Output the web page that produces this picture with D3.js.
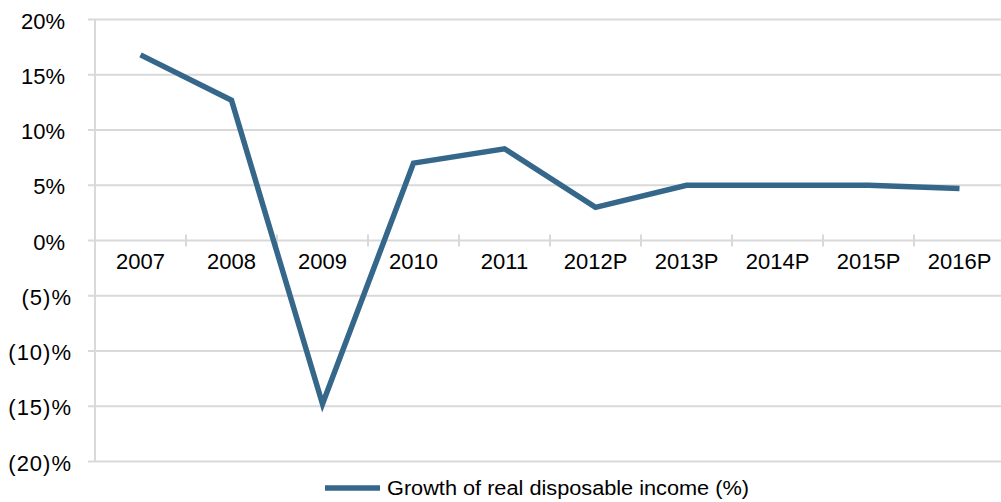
<!DOCTYPE html>
<html><head><meta charset="utf-8">
<script src="https://cdn.jsdelivr.net/npm/d3@7"></script>
<style>body{margin:0;background:#fff;} svg{display:block;font-family:"Liberation Sans",Arial,sans-serif;}</style>
</head><body><div id="c"></div>
<script>
const categories = ["2007","2008","2009","2010","2011","2012P","2013P","2014P","2015P","2016P"];
const growth = [16.8, 12.7, -14.8, 7.0, 8.3, 3.0, 5.0, 5.0, 5.0, 4.7];
const yTicks = [20, 15, 10, 5, 0, -5, -10, -15, -20];
const seriesName = "Growth of real disposable income (%)";

const W = 1001, H = 502;
const svg = d3.select("#c").append("svg").attr("width", W).attr("height", H);
const padL = 95, padT = 19.5, padB = 461.5;
const x = d3.scaleBand().domain(categories).range([padL, padL + 910]);
const y = d3.scaleLinear().domain([-20, 20]).range([padB, padT]);
const grid = "#d9d9d9";

// gridlines
svg.append("g").selectAll("line").data(yTicks).join("line")
  .attr("x1", padL - 7).attr("x2", W).attr("y1", d => y(d)).attr("y2", d => y(d))
  .attr("stroke", grid).attr("stroke-width", 2);
// y axis line
svg.append("line").attr("x1", padL).attr("x2", padL).attr("y1", padT).attr("y2", padB)
  .attr("stroke", grid).attr("stroke-width", 2);
// y labels
svg.append("g").selectAll("text").data(yTicks).join("text")
  .attr("x", d => d < 0 ? 72 : 65).attr("y", d => y(d) + 9).attr("text-anchor", "end")
  .attr("font-size", 22).attr("fill", "#000")
  .attr("letter-spacing", d => d < 0 ? 1 : 0)
  .text(d => d < 0 ? "(" + (-d) + ")%" : d + "%");
// x ticks on zero line
const bounds = categories.map((c, i) => x(c)).concat([x(categories[categories.length-1]) + x.bandwidth()]);
svg.append("g").selectAll("line").data(bounds).join("line")
  .attr("x1", d => d).attr("x2", d => d).attr("y1", y(0) - 6).attr("y2", y(0) + 6)
  .attr("stroke", grid).attr("stroke-width", 2);
// x labels
svg.append("g").selectAll("text").data(categories).join("text")
  .attr("x", d => x(d) + x.bandwidth()/2).attr("y", y(0) + 28).attr("text-anchor", "middle")
  .attr("font-size", 22).attr("fill", "#000").text(d => d);
// line
const color = "#35678a";
svg.append("path").datum(growth)
  .attr("fill", "none").attr("stroke", color).attr("stroke-width", 5.5)
  .attr("stroke-linejoin", "miter")
  .attr("d", d3.line().x((d, i) => x(categories[i]) + x.bandwidth()/2).y(d => y(d)));
// legend
svg.append("line").attr("x1", 325).attr("x2", 380).attr("y1", 488).attr("y2", 488)
  .attr("stroke", color).attr("stroke-width", 5.5);
svg.append("text").attr("x", 387).attr("y", 495).attr("font-size", 20).attr("fill", "#000")
  .attr("textLength", 362).attr("lengthAdjust", "spacingAndGlyphs").text(seriesName);
</script></body></html>
